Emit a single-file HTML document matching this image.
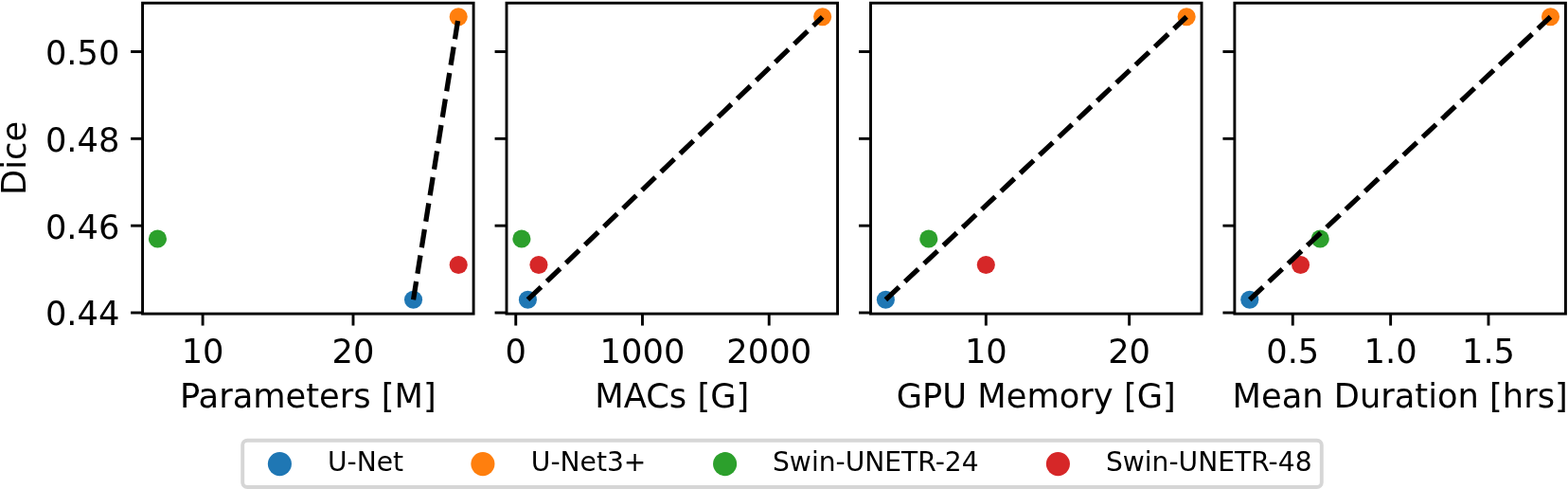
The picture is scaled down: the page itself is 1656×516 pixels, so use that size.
<!DOCTYPE html>
<html lang="en"><head><meta charset="utf-8"><title>Dice vs. cost</title>
<style>
html,body{margin:0;padding:0;background:#fff;}
body{width:1656px;height:516px;overflow:hidden;}
svg{display:block;}
text{font-family:"DejaVu Sans","Liberation Sans",sans-serif;fill:#000;}
.t{font-size:35.25px;}
.l{font-size:28.15px;}
</style></head><body>
<svg width="1656" height="516" viewBox="0 0 1656 516">
<rect width="1656" height="516" fill="#fff"/>
<g>
<circle cx="436.55" cy="316.23" r="9.55" fill="#1f77b4"/>
<circle cx="484.21" cy="17.78" r="9.55" fill="#ff7f0e"/>
<circle cx="166.44" cy="251.94" r="9.55" fill="#2ca02c"/>
<circle cx="484.21" cy="279.49" r="9.55" fill="#d62728"/>
<line x1="436.55" y1="316.23" x2="484.21" y2="17.78" stroke="#000" stroke-width="5.25" stroke-dasharray="19.44 8.41"/>
<line x1="214.10" y1="331.10" x2="214.10" y2="343.55" stroke="#000" stroke-width="2.90"/>
<text class="t" x="214.10" y="382.70" text-anchor="middle">10</text>
<line x1="372.99" y1="331.10" x2="372.99" y2="343.55" stroke="#000" stroke-width="2.90"/>
<text class="t" x="372.99" y="382.70" text-anchor="middle">20</text>
<line x1="138.10" y1="330.00" x2="150.55" y2="330.00" stroke="#000" stroke-width="2.90"/>
<text class="t" x="126.40" y="343.40" text-anchor="end">0.44</text>
<line x1="138.10" y1="238.17" x2="150.55" y2="238.17" stroke="#000" stroke-width="2.90"/>
<text class="t" x="126.40" y="251.57" text-anchor="end">0.46</text>
<line x1="138.10" y1="146.34" x2="150.55" y2="146.34" stroke="#000" stroke-width="2.90"/>
<text class="t" x="126.40" y="159.74" text-anchor="end">0.48</text>
<line x1="138.10" y1="54.51" x2="150.55" y2="54.51" stroke="#000" stroke-width="2.90"/>
<text class="t" x="126.40" y="67.91" text-anchor="end">0.50</text>
<rect x="150.55" y="3.20" width="349.55" height="327.90" fill="none" stroke="#000" stroke-width="2.90"/>
<text class="t" x="325.33" y="430.35" text-anchor="middle">Parameters [M]</text>
</g>
<g>
<circle cx="557.44" cy="316.23" r="9.55" fill="#1f77b4"/>
<circle cx="868.66" cy="17.78" r="9.55" fill="#ff7f0e"/>
<circle cx="550.89" cy="251.94" r="9.55" fill="#2ca02c"/>
<circle cx="568.94" cy="279.49" r="9.55" fill="#d62728"/>
<line x1="557.44" y1="316.23" x2="868.66" y2="17.78" stroke="#000" stroke-width="5.25" stroke-dasharray="19.44 8.41"/>
<line x1="544.74" y1="331.10" x2="544.74" y2="343.55" stroke="#000" stroke-width="2.90"/>
<text class="t" x="544.74" y="382.70" text-anchor="middle">0</text>
<line x1="678.48" y1="331.10" x2="678.48" y2="343.55" stroke="#000" stroke-width="2.90"/>
<text class="t" x="678.48" y="382.70" text-anchor="middle">1000</text>
<line x1="812.22" y1="331.10" x2="812.22" y2="343.55" stroke="#000" stroke-width="2.90"/>
<text class="t" x="812.22" y="382.70" text-anchor="middle">2000</text>
<line x1="522.55" y1="330.00" x2="535.00" y2="330.00" stroke="#000" stroke-width="2.90"/>
<line x1="522.55" y1="238.17" x2="535.00" y2="238.17" stroke="#000" stroke-width="2.90"/>
<line x1="522.55" y1="146.34" x2="535.00" y2="146.34" stroke="#000" stroke-width="2.90"/>
<line x1="522.55" y1="54.51" x2="535.00" y2="54.51" stroke="#000" stroke-width="2.90"/>
<rect x="535.00" y="3.20" width="349.55" height="327.90" fill="none" stroke="#000" stroke-width="2.90"/>
<text class="t" x="709.77" y="430.35" text-anchor="middle">MACs [G]</text>
</g>
<g>
<circle cx="935.39" cy="316.23" r="9.55" fill="#1f77b4"/>
<circle cx="1253.16" cy="17.78" r="9.55" fill="#ff7f0e"/>
<circle cx="980.78" cy="251.94" r="9.55" fill="#2ca02c"/>
<circle cx="1041.31" cy="279.49" r="9.55" fill="#d62728"/>
<line x1="935.39" y1="316.23" x2="1253.16" y2="17.78" stroke="#000" stroke-width="5.25" stroke-dasharray="19.44 8.41"/>
<line x1="1041.31" y1="331.10" x2="1041.31" y2="343.55" stroke="#000" stroke-width="2.90"/>
<text class="t" x="1041.31" y="382.70" text-anchor="middle">10</text>
<line x1="1192.63" y1="331.10" x2="1192.63" y2="343.55" stroke="#000" stroke-width="2.90"/>
<text class="t" x="1192.63" y="382.70" text-anchor="middle">20</text>
<line x1="907.05" y1="330.00" x2="919.50" y2="330.00" stroke="#000" stroke-width="2.90"/>
<line x1="907.05" y1="238.17" x2="919.50" y2="238.17" stroke="#000" stroke-width="2.90"/>
<line x1="907.05" y1="146.34" x2="919.50" y2="146.34" stroke="#000" stroke-width="2.90"/>
<line x1="907.05" y1="54.51" x2="919.50" y2="54.51" stroke="#000" stroke-width="2.90"/>
<rect x="919.50" y="3.20" width="349.55" height="327.90" fill="none" stroke="#000" stroke-width="2.90"/>
<text class="t" x="1094.28" y="430.35" text-anchor="middle">GPU Memory [G]</text>
</g>
<g>
<circle cx="1319.80" cy="316.23" r="9.55" fill="#1f77b4"/>
<circle cx="1637.53" cy="17.78" r="9.55" fill="#ff7f0e"/>
<circle cx="1394.22" cy="251.94" r="9.55" fill="#2ca02c"/>
<circle cx="1373.55" cy="279.49" r="9.55" fill="#d62728"/>
<line x1="1319.80" y1="316.23" x2="1637.53" y2="17.78" stroke="#000" stroke-width="5.25" stroke-dasharray="19.44 8.41"/>
<line x1="1365.28" y1="331.10" x2="1365.28" y2="343.55" stroke="#000" stroke-width="2.90"/>
<text class="t" x="1365.28" y="382.70" text-anchor="middle">0.5</text>
<line x1="1468.64" y1="331.10" x2="1468.64" y2="343.55" stroke="#000" stroke-width="2.90"/>
<text class="t" x="1468.64" y="382.70" text-anchor="middle">1.0</text>
<line x1="1572.00" y1="331.10" x2="1572.00" y2="343.55" stroke="#000" stroke-width="2.90"/>
<text class="t" x="1572.00" y="382.70" text-anchor="middle">1.5</text>
<line x1="1291.45" y1="330.00" x2="1303.90" y2="330.00" stroke="#000" stroke-width="2.90"/>
<line x1="1291.45" y1="238.17" x2="1303.90" y2="238.17" stroke="#000" stroke-width="2.90"/>
<line x1="1291.45" y1="146.34" x2="1303.90" y2="146.34" stroke="#000" stroke-width="2.90"/>
<line x1="1291.45" y1="54.51" x2="1303.90" y2="54.51" stroke="#000" stroke-width="2.90"/>
<rect x="1303.90" y="3.20" width="349.55" height="327.90" fill="none" stroke="#000" stroke-width="2.90"/>
<text class="t" x="1478.68" y="430.35" text-anchor="middle">Mean Duration [hrs]</text>
</g>
<text class="t" transform="translate(27.0,166.9) rotate(-90)" text-anchor="middle">Dice</text>
<rect x="256.2" y="464.7" width="1139.60" height="49.30" rx="5" ry="5" fill="#fff" stroke="#d6d6d6" stroke-width="3.9"/>
<circle cx="295.40" cy="489.6" r="12.55" fill="#1f77b4"/>
<text class="l" x="346.00" y="497.1">U-Net</text>
<circle cx="509.90" cy="489.6" r="12.55" fill="#ff7f0e"/>
<text class="l" x="560.80" y="497.1">U-Net3+</text>
<circle cx="765.60" cy="489.6" r="12.55" fill="#2ca02c"/>
<text class="l" x="816.00" y="497.1">Swin-UNETR-24</text>
<circle cx="1117.40" cy="489.6" r="12.55" fill="#d62728"/>
<text class="l" x="1167.90" y="497.1">Swin-UNETR-48</text>
</svg>
</body></html>
